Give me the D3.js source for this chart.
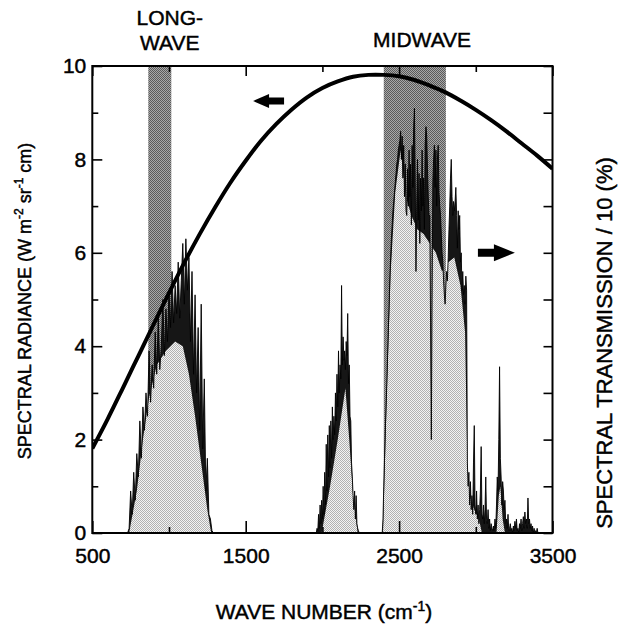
<!DOCTYPE html>
<html>
<head>
<meta charset="utf-8">
<script src="https://cdn.jsdelivr.net/npm/d3@7"></script>
<style>
  html, body { margin: 0; padding: 0; background: #fff; }
  svg { display: block; }
  text { font-family: "Liberation Sans", Arial, Helvetica, sans-serif; fill: #000; stroke: #000; stroke-width: 0.45px; }
</style>
</head>
<body>
<svg id="chart" width="620" height="628"></svg>
<script>
// ---- Blackbody spectral radiance (left axis), sampled every 100 cm-1 ----
const radWaveStart = 500, radWaveStep = 100;
const radiance = [1.81, 2.44, 3.11, 3.79, 4.47, 5.14, 5.79, 6.40, 6.97, 7.50,
                  7.97, 8.40, 8.76, 9.07, 9.33, 9.53, 9.67, 9.77, 9.81, 9.81,
                  9.78, 9.70, 9.58, 9.44, 9.26, 9.06, 8.84, 8.60, 8.34, 8.08, 7.80];

// ---- Atmospheric transmission / 10 (right axis), three windows ----
const lwStart = 730, lwStep = 10;
const lwTrans = [0, 0.1, 0.9, 0.4, 1.3, 0.7, 1.7, 1.2, 2.4, 1.6,
                 2.7, 2.2, 3.0, 2.5, 3.9, 2.8, 3.6, 3.1, 4.3, 3.4,
                 4.6, 3.5, 4.0, 5.0, 3.8, 4.8, 4.1, 5.2, 4.4, 5.6,
                 4.5, 5.3, 4.7, 5.8, 4.6, 5.4, 6.2, 4.9, 6.3, 5.2,
                 5.9, 4.1, 5.6, 3.4, 5.1, 3.0, 4.4, 2.2, 4.9, 1.8,
                 3.3, 0.9, 1.6, 0.4, 0.3, 0.05, 0];

const coStart = 1960, coStep = 5;
const coTrans = [0, 0.1, 0.05, 0.4, 0.1, 0.6, 0.2, 0.7, 0.3, 1.0,
                 0.4, 1.3, 0.6, 1.9, 0.9, 2.1, 1.2, 2.3, 1.4, 2.4,
                 1.6, 2.7, 2.0, 2.5, 2.1, 3.0, 2.4, 3.4, 2.7, 3.9,
                 3.0, 3.6, 3.3, 5.3, 3.6, 4.2, 3.7, 3.9, 3.5, 4.1,
                 3.8, 4.7, 3.2, 3.6, 2.5, 2.4, 1.5, 1.2, 0.8, 0.5,
                 0.9, 0.3, 0.8, 0.2, 0.1, 0.05, 0];

const mwStart = 2390, mwStep = 5;
const mwTrans = [0, 0.3, 1.0, 1.6, 2.2, 2.7, 3.2, 3.8, 4.4, 4.9,
                 5.5, 5.9, 6.3, 6.6, 6.9, 7.1, 7.3, 7.5, 7.7, 7.9,
                 8.0, 8.2, 8.3, 8.4, 8.6, 8.0, 8.5, 7.6, 8.3, 7.2,
                 7.9, 6.9, 6.8, 7.8, 7.0, 8.2, 7.2, 7.9, 6.6, 8.3,
                 7.4, 8.7, 9.1, 7.5, 5.6, 7.0, 8.0, 6.7, 7.7, 6.2,
                 7.6, 6.9, 8.2, 7.0, 7.6, 6.5, 8.3, 8.7, 8.5, 7.8,
                 7.2, 6.8, 6.8, 4.5, 2.0, 5.0, 7.5, 8.0, 8.3, 7.4,
                 8.2, 7.0, 8.0, 8.3, 7.3, 7.0, 6.8, 6.4, 6.0, 5.8,
                 5.4, 5.1, 4.9, 5.3, 5.6, 5.4, 5.9, 6.5, 7.0, 7.6,
                 8.0, 7.2, 6.8, 7.1, 6.9, 7.1, 7.4, 6.8, 6.1, 6.9,
                 6.5, 6.8, 5.8, 6.0, 5.2, 5.6, 5.1, 5.3, 4.9, 5.5,
                 5.2, 1.5, 1.0, 1.3, 0.6, 1.1, 0.5, 0.8, 0.4, 1.5,
                 2.3, 0.6, 0.4, 0.9, 0.3, 0.6, 0.2, 0.5, 0.9, 1.85,
                 0.4, 0.3, 0.6, 0.2, 0.5, 1.2, 0.3, 0.2, 0.5, 0.1,
                 0.3, 0.05, 0.2, 0.1, 0.05, 0.15, 0.05, 0.3, 0.1, 0.6,
                 1.2, 0.9, 2.0, 3.56, 1.6, 1.2, 0.6, 1.1, 0.9, 0.5,
                 0.7, 0.2, 0.3, 0.1, 0.4, 0.05, 0.1, 0.2, 0.05, 0.1,
                 0, 0.15, 0.05, 0.25, 0.1, 0.3, 0.05, 0.1, 0, 0.2,
                 0.1, 0.3, 0.05, 0.2, 0.35, 0.1, 0.45, 0.2, 0.3, 0.1,
                 0.75, 0.2, 0.3, 0.1, 0.2, 0.05, 0.15, 0, 0.1, 0,
                 0.05, 0, 0.1, 0, 0, 0, 0];

// Continuum (stippled body) of each transmission window
const lwEnvWave = [740, 790, 830, 870, 920, 980, 1040, 1090, 1130, 1170, 1210, 1250, 1275];
const lwEnv     = [0, 0.9, 2.0, 2.9, 3.6, 3.9, 4.1, 4.0, 3.4, 2.5, 1.5, 0.5, 0];
const coEnvWave = [1995, 2050, 2100, 2150, 2175, 2200, 2230];
const coEnv     = [0, 1.0, 2.0, 3.1, 2.0, 0.8, 0];
const mwEnvWave = [2395, 2420, 2445, 2475, 2510, 2545, 2580, 2620, 2660, 2700, 2740,
                   2780, 2820, 2860, 2900, 2930, 2945, 2960, 2990, 3020, 3040];
const mwEnv     = [0, 3.0, 5.6, 7.3, 8.2, 7.2, 6.8, 6.5, 6.4, 6.2, 6.0,
                   5.6, 5.8, 5.9, 5.3, 4.3, 1.5, 0.8, 0.5, 0.3, 0];
const tailEnvWave = [3135, 3150, 3160, 3175, 3190];
const tailEnv     = [0, 0.8, 1.0, 0.3, 0];

// Detector bands
const bandNames = [["LONG-", "WAVE"], ["MIDWAVE"]];
const bandFrom  = [865, 2400];
const bandTo    = [1015, 2805];
const bandLabelWave = [1005, 2650];

// Axis ticks
const xMajorTicks = [500, 1500, 2500, 3500];
const xMinorTicks = [1000, 2000, 3000];
const yMajorTicks = [0, 2, 4, 6, 8, 10];
const yMinorTicks = [1, 3, 5, 7, 9];
const yAllTicks   = [0, 1, 2, 3, 4, 5, 6, 7, 8, 9, 10];

// ---------------------------------------------------------------
const W = 620, H = 628;
const margin = { top: 66, right: 67.5, bottom: 95, left: 92.3 };
const FONT = '"Liberation Sans", Arial, Helvetica, sans-serif';

const svg = d3.select("#chart");
const x = d3.scaleLinear().domain([500, 3500]).range([margin.left, W - margin.right]);
const y = d3.scaleLinear().domain([0, 10]).range([H - margin.bottom, margin.top]);

const defs = svg.append("defs");
function stipple(id, bg, dot) {
  const p = defs.append("pattern").attr("id", id)
    .attr("width", 2).attr("height", 2).attr("patternUnits", "userSpaceOnUse");
  p.append("rect").attr("width", 2).attr("height", 2).attr("fill", bg).attr("shape-rendering", "crispEdges");
  p.append("rect").attr("width", 1).attr("height", 1).attr("fill", dot).attr("shape-rendering", "crispEdges");
  p.append("rect").attr("x", 1).attr("y", 1).attr("width", 1).attr("height", 1).attr("fill", dot).attr("shape-rendering", "crispEdges");
}
stipple("bandDots", "#a8a8a8", "#5a5a5a");
stipple("windowDots", "#f4f4f4", "#b2b2b2");

defs.append("clipPath").attr("id", "plotClip")
  .append("rect").attr("x", x(500)).attr("y", y(10))
  .attr("width", x(3500) - x(500)).attr("height", y(0) - y(10));

// Detector band shading
svg.append("g").selectAll("rect").data(bandFrom).join("rect")
  .attr("x", (d) => x(d)).attr("y", y(10))
  .attr("width", (d, i) => x(bandTo[i]) - x(d))
  .attr("height", y(0) - y(10))
  .attr("fill", "url(#bandDots)");

// Transmission spectra
const segments = [
  { start: lwStart, step: lwStep, values: lwTrans },
  { start: coStart, step: coStep, values: coTrans },
  { start: mwStart, step: mwStep, values: mwTrans }
].map(s => s.values.map((v, i) => [s.start + i * s.step, v]));

const area = d3.area().x(d => x(d[0])).y0(y(0)).y1(d => y(d[1]));
const line = d3.line().x(d => x(d[0])).y(d => y(d[1]));

const spectrumClip = defs.append("clipPath").attr("id", "spectrumClip");
segments.forEach(seg => spectrumClip.append("path").attr("d", area(seg)));

// dark line-forest under each spectrum
const specG = svg.append("g");
segments.forEach(seg => {
  specG.append("path").attr("d", area(seg)).attr("fill", "#161616");
});

// stippled continuum, kept inside the spectrum outline
const envelopes = [
  [lwEnvWave, lwEnv], [coEnvWave, coEnv], [mwEnvWave, mwEnv], [tailEnvWave, tailEnv]
].map(([w, v]) => w.map((d, i) => [d, v[i]]));
const envG = svg.append("g").attr("clip-path", "url(#spectrumClip)");
envelopes.forEach(env => {
  envG.append("path").attr("d", area(env)).attr("fill", "url(#windowDots)");
});

// spectrum outline on top
const outlineG = svg.append("g");
segments.forEach(seg => {
  outlineG.append("path").attr("d", line(seg))
    .attr("fill", "none").attr("stroke", "#000").attr("stroke-width", 0.9)
    .attr("stroke-linejoin", "miter");
});

// Blackbody curve
const radData = radiance.map((v, i) => [radWaveStart + i * radWaveStep, v]);
svg.append("path")
  .attr("clip-path", "url(#plotClip)")
  .attr("d", d3.line().x(d => x(d[0])).y(d => y(d[1])).curve(d3.curveCatmullRom)(radData))
  .attr("fill", "none").attr("stroke", "#000").attr("stroke-width", 4);

// Direction arrows (left one refers to the radiance axis, right one to transmission)
function arrow(tipWave, tipVal, dir, len, headLen, headHalf, shaftHalf) {
  const tx = x(tipWave), ty = y(tipVal);
  const s = -dir;
  const pts = [
    [tx, ty],
    [tx + s * headLen, ty - headHalf],
    [tx + s * headLen, ty - shaftHalf],
    [tx + s * len, ty - shaftHalf],
    [tx + s * len, ty + shaftHalf],
    [tx + s * headLen, ty + shaftHalf],
    [tx + s * headLen, ty + headHalf]
  ];
  svg.append("path").attr("d", "M" + pts.map(p => p.join(",")).join("L") + "Z").attr("fill", "#000");
}
arrow(1548, 9.25, -1, 31, 16, 7, 3.5);
arrow(3255, 6.0, 1, 37, 21, 8.5, 4);

// Axes (ticks point into the plot)
function styleAxis(g) {
  g.select(".domain").remove();
  g.attr("font-family", FONT).attr("font-size", 21);
  g.selectAll(".tick line").attr("stroke", "#000").attr("stroke-width", 1.6);
  g.selectAll(".tick text").attr("fill", "#000");
}
svg.append("g").attr("transform", `translate(0,${y(0)})`)
  .call(d3.axisBottom(x).tickValues(xMajorTicks).tickSize(-12).tickPadding(15).tickFormat(d3.format("d")))
  .call(styleAxis);
svg.append("g").attr("transform", `translate(0,${y(0)})`)
  .call(d3.axisBottom(x).tickValues(xMinorTicks).tickSize(-6).tickFormat(""))
  .call(styleAxis);
svg.append("g").attr("transform", `translate(0,${y(10)})`)
  .call(d3.axisTop(x).tickValues(xMajorTicks).tickSize(-10).tickFormat(""))
  .call(styleAxis);
svg.append("g").attr("transform", `translate(0,${y(10)})`)
  .call(d3.axisTop(x).tickValues(xMinorTicks).tickSize(-6).tickFormat(""))
  .call(styleAxis);
svg.append("g").attr("transform", `translate(${x(500)},0)`)
  .call(d3.axisLeft(y).tickValues(yMajorTicks).tickSize(-10).tickPadding(6).tickFormat(d3.format("d")))
  .call(styleAxis);
svg.append("g").attr("transform", `translate(${x(500)},0)`)
  .call(d3.axisLeft(y).tickValues(yMinorTicks).tickSize(-6).tickFormat(""))
  .call(styleAxis);
svg.append("g").attr("transform", `translate(${x(3500)},0)`)
  .call(d3.axisRight(y).tickValues(yAllTicks).tickSize(-9).tickFormat(""))
  .call(styleAxis);

// Plot frame
svg.append("rect")
  .attr("x", x(500)).attr("y", y(10))
  .attr("width", x(3500) - x(500)).attr("height", y(0) - y(10))
  .attr("fill", "none").attr("stroke", "#000").attr("stroke-width", 2);

// Band labels
bandNames.forEach((lines, i) => {
  const t = svg.append("text").attr("text-anchor", "middle").attr("font-size", 21)
    .attr("x", x(bandLabelWave[i]));
  const firstBaseline = lines.length > 1 ? 25 : 47;
  lines.forEach((ln, j) => {
    t.append("tspan").attr("x", x(bandLabelWave[i])).attr("y", firstBaseline + j * 24.5).text(ln);
  });
});

// Axis titles with superscripts
function titleWithSups(sel, parts, supSize) {
  parts.forEach(p => {
    if (p.sup) {
      sel.append("tspan").attr("dy", -8).attr("font-size", supSize).text(p.t);
    } else {
      sel.append("tspan").attr("dy", p.after ? 8 : 0).text(p.t);
    }
  });
}

const xTitle = svg.append("text").attr("text-anchor", "middle").attr("font-size", 21)
  .attr("x", 324).attr("y", 619);
titleWithSups(xTitle, [{ t: "WAVE NUMBER (cm" }, { t: "-1", sup: true }, { t: ")", after: true }], 14);

const yTitle = svg.append("text").attr("text-anchor", "middle").attr("font-size", 18)
  .attr("transform", "translate(31,301) rotate(-90)");
titleWithSups(yTitle, [
  { t: "SPECTRAL RADIANCE (W m" }, { t: "-2", sup: true },
  { t: " sr", after: true }, { t: "-1", sup: true },
  { t: " cm)", after: true }
], 12);

svg.append("text").attr("text-anchor", "middle").attr("font-size", 22)
  .attr("transform", "translate(612,343) rotate(-90)")
  .text("SPECTRAL TRANSMISSION / 10 (%)");
</script>
</body>
</html>
